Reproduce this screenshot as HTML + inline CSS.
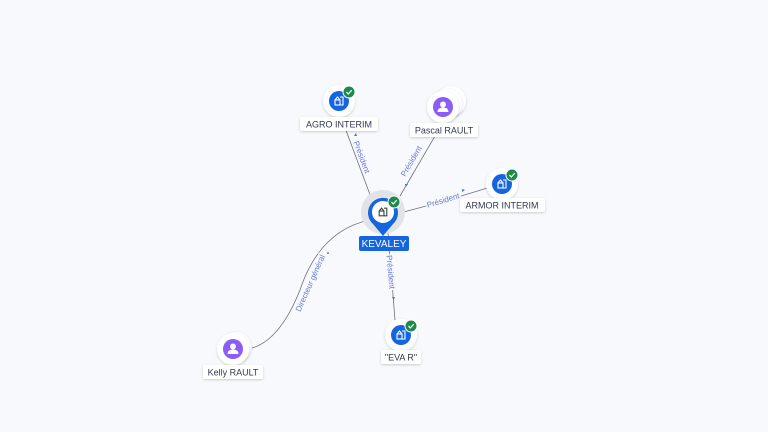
<!DOCTYPE html>
<html><head><meta charset="utf-8"><style>
html,body{margin:0;padding:0;background:#f8f9fc;}
svg{display:block;font-family:"Liberation Sans",sans-serif;}
.lbl{font-size:9px;fill:#333a50;}
.el{font-size:8px;fill:#6a77d8;stroke:#f8f9fc;stroke-width:3px;paint-order:stroke;text-anchor:middle;}
</style></head><body>
<svg width="768" height="432" viewBox="0 0 768 432">
<defs>
<filter id="sh" x="-50%" y="-50%" width="200%" height="200%"><feDropShadow dx="0" dy="1" stdDeviation="1.2" flood-color="#000" flood-opacity="0.18"/></filter>
<g id="bld"><rect x="-4" y="-1" width="5" height="5" fill="none" stroke="#fff" stroke-width="1.1"/><path d="M-4 -1 L-1.5 -4 L1 -1 M1 -4 L4 -4 L4 4 L1 4" fill="none" stroke="#fff" stroke-width="1.1"/></g>
<g id="chk"><circle r="6" fill="#1e8a4a" stroke="#fff" stroke-width="1"/><path d="M-2.5 0 L-0.7 2 L2.7 -1.8" fill="none" stroke="#fff" stroke-width="1.2"/></g>
<g id="usr"><circle r="10" fill="#8b5cf6"/><circle cy="-2.5" r="3" fill="#fff"/><path d="M-5.5 5 Q-5.5 0.5 0 0.5 Q5.5 0.5 5.5 5 Z" fill="#fff"/></g>
</defs>
<g fill="none" stroke="#6b7080" stroke-width="0.8">
<path d="M372 200 L341 117"/>
<path d="M400 196 L442 124"/>
<path d="M400 213 Q450 200 500 184"/>
<path d="M388 233 L395 320"/>
<path d="M370 220 Q320 230 300 290 Q280 340 252 348"/>
</g>
<g fill="#4b6fd6">
<path d="M354 136 l2 -3 l1 3z"/>
<path d="M405 184 l1 3 l2 -3z"/>
<path d="M462 189 l3 1 l-3 2z"/>
<path d="M392 297 l3 0 l-1.5 3z"/>
<path d="M327 254 l1 -3 l1 3z"/>
</g>
<text class="el" transform="translate(362,157) rotate(69.5)" dy="3">Président</text>
<text class="el" transform="translate(411,161) rotate(-60)" dy="3">Président</text>
<text class="el" transform="translate(443,200) rotate(-17)" dy="3">Président</text>
<text class="el" transform="translate(391,272) rotate(85)" dy="3">Président</text>
<text class="el" transform="translate(310,283) rotate(-66)" dy="3">Directeur général</text>
<circle cx="383" cy="212" r="22" fill="#e2e3e8"/>
<path d="M383 236 L373 224 A15 15 0 1 1 393 224 Z" fill="#1565e0"/>
<circle cx="383" cy="212" r="11" fill="#fff"/>
<g transform="translate(383,212) scale(0.95)"><rect x="-4" y="-1" width="5" height="5" fill="none" stroke="#444" stroke-width="1.2"/><path d="M-4 -1 L-1.5 -4 L1 -1 M1 -4 L4 -4 L4 4 L1 4" fill="none" stroke="#444" stroke-width="1.2"/></g>
<use href="#chk" x="394" y="202"/>
<rect x="359" y="236" width="50" height="15" rx="2" fill="#1565e0"/>
<text x="384" y="247" text-anchor="middle" style="font-size:10px;fill:#fff">KEVALEY</text>
<circle cx="339" cy="101" r="16" fill="#fff" filter="url(#sh)"/>
<circle cx="339" cy="101" r="10" fill="#1565e0"/><use href="#bld" x="339" y="101"/>
<use href="#chk" x="349" y="92"/>
<rect x="300" y="117" width="78" height="14" rx="2" fill="#fff" filter="url(#sh)"/>
<text class="lbl" x="339" y="127.5" text-anchor="middle">AGRO INTERIM</text>
<circle cx="451" cy="101" r="15" fill="#fff" filter="url(#sh)"/>
<circle cx="447" cy="104" r="15" fill="#fff" filter="url(#sh)"/>
<circle cx="443" cy="107" r="16" fill="#fff" filter="url(#sh)"/>
<use href="#usr" x="443" y="107"/>
<rect x="410" y="123" width="68" height="14" rx="2" fill="#fff" filter="url(#sh)"/>
<text class="lbl" x="444" y="133.5" text-anchor="middle">Pascal RAULT</text>
<circle cx="502" cy="184" r="16" fill="#fff" filter="url(#sh)"/>
<circle cx="502" cy="184" r="10" fill="#1565e0"/><use href="#bld" x="502" y="184"/>
<use href="#chk" x="512" y="175"/>
<rect x="460" y="198" width="85" height="14" rx="2" fill="#fff" filter="url(#sh)"/>
<text class="lbl" x="502" y="208.5" text-anchor="middle">ARMOR INTERIM</text>
<circle cx="401" cy="335" r="16" fill="#fff" filter="url(#sh)"/>
<circle cx="401" cy="335" r="10" fill="#1565e0"/><use href="#bld" x="401" y="335"/>
<use href="#chk" x="411" y="326"/>
<rect x="381" y="350" width="40" height="14" rx="2" fill="#fff" filter="url(#sh)"/>
<text class="lbl" x="401" y="360.5" text-anchor="middle">"EVA R"</text>
<circle cx="236" cy="347" r="15" fill="#fff" filter="url(#sh)"/>
<circle cx="233" cy="349" r="16" fill="#fff" filter="url(#sh)"/>
<use href="#usr" x="233" y="349"/>
<rect x="203" y="365" width="60" height="14" rx="2" fill="#fff" filter="url(#sh)"/>
<text class="lbl" x="233" y="375.5" text-anchor="middle">Kelly RAULT</text>
</svg>
</body></html>
